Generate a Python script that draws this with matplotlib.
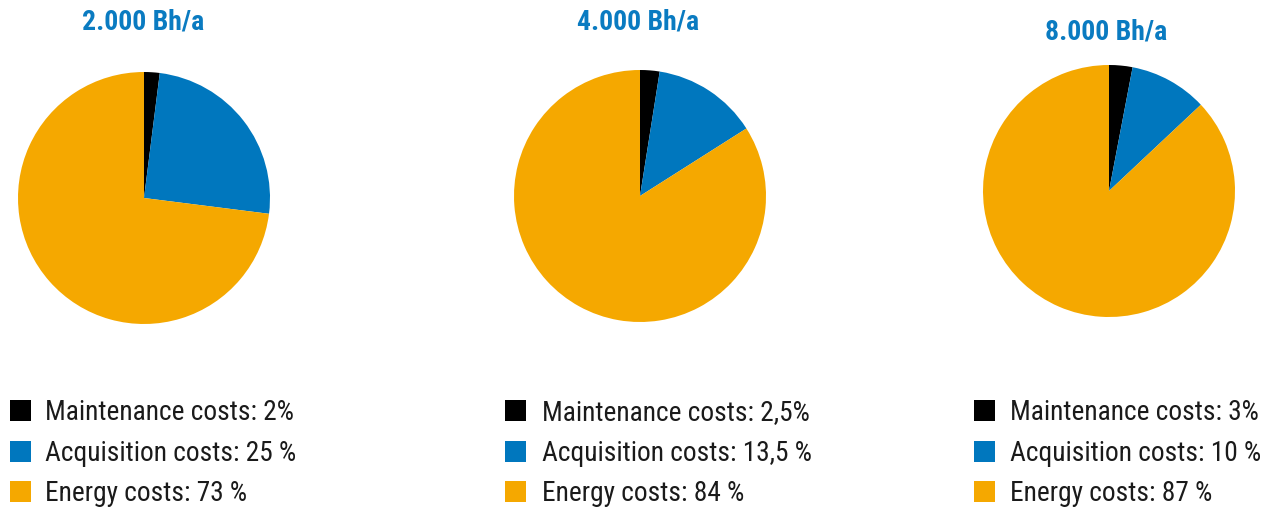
import matplotlib
matplotlib.use("Agg")
import matplotlib.pyplot as plt
from matplotlib.patches import Rectangle
from matplotlib import font_manager

titles = ["2.000 Bh/a", "4.000 Bh/a", "8.000 Bh/a"]
categories = ["Maintenance costs", "Acquisition costs", "Energy costs"]
maintenance = [2, 2.5, 3]
acquisition = [25, 13.5, 10]
energy = [73, 84, 87]
legend_labels = [
    ["Maintenance costs: 2%", "Acquisition costs: 25 %", "Energy costs: 73 %"],
    ["Maintenance costs: 2,5%", "Acquisition costs: 13,5 %", "Energy costs: 84 %"],
    ["Maintenance costs: 3%", "Acquisition costs: 10 %", "Energy costs: 87 %"],
]

colors = ["#000000", "#0077BE", "#F5A800"]
title_color = "#0A7BC1"

names = {f.name for f in font_manager.fontManager.ttflist}
narrow = "DejaVu Sans"
for cand in ["Roboto Condensed", "Liberation Sans Narrow", "Open Sans Condensed"]:
    if cand in names:
        narrow = cand
        break
fam = [narrow, "DejaVu Sans"]

W, H = 1266, 510
fig = plt.figure(figsize=(W / 100, H / 100), dpi=100)

# pie geometry in pixels (cx, cy, r)
pies = [(144, 199, 126), (640, 197, 126), (1109, 192, 126)]
title_pos = [(143, 22), (638, 22), (1106, 32)]
sq_x = [10, 505, 974]
txt_x = [45, 542, 1010]
row_base = [420, 461, 501]
sq_size = 21

def fx(x):
    return x / W

def fy(y):
    return 1 - y / H

for i in range(3):
    cx, cy, r = pies[i]
    ax = fig.add_axes([fx(cx - r), fy(cy + r), 2 * r / W, 2 * r / H])
    vals = [maintenance[i], acquisition[i], energy[i]]
    ax.pie(vals, colors=colors, startangle=90, counterclock=False, radius=1,
           wedgeprops=dict(linewidth=0))
    ax.set_xlim(-1, 1)
    ax.set_ylim(-1, 1)
    ax.set_aspect("equal")
    ax.axis("off")

    tx, ty = title_pos[i]
    fig.text(fx(tx), fy(ty), titles[i], ha="center", va="center",
             fontsize=20, fontweight="bold", color=title_color, family=fam)

    for j in range(3):
        b = row_base[j]
        fig.patches.append(Rectangle((fx(sq_x[i]), fy(b - 19 + sq_size)),
                                     sq_size / W, sq_size / H,
                                     transform=fig.transFigure,
                                     facecolor=colors[j], edgecolor="none"))
        fig.text(fx(txt_x[i]), fy(b), legend_labels[i][j], ha="left",
                 va="baseline", fontsize=19.7, color="#1a1a1a", family=fam)

fig.savefig("out.png", dpi=100)
